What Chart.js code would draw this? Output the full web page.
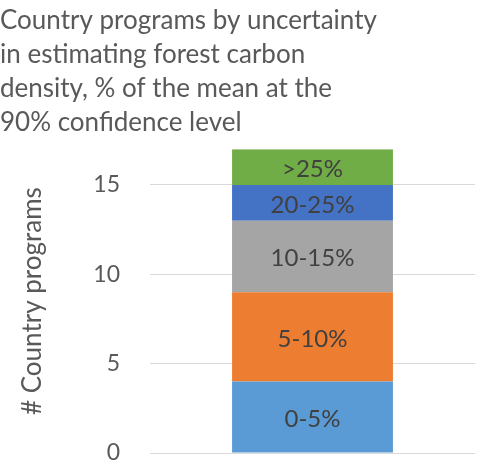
<!DOCTYPE html>
<html lang="en">
<head>
    <meta charset="UTF-8">
    <title>Country programs by uncertainty</title>
    <script src="https://cdn.jsdelivr.net/npm/chart.js"></script>
    <style>
        body {
            margin: 0;
            background-color: white;
        }
        .chart-container {
            position: relative;
            width: 480px;
            height: 464px;
        }
    </style>
</head>
<body>
    <div class="chart-container">
        <canvas id="uncertaintyChart"></canvas>
    </div>

    <script>
        // Data
        const categories = ['Programs'];
        const bandLabels = ['0-5%', '5-10%', '10-15%', '20-25%', '>25%'];
        const bandCounts = [4, 5, 4, 2, 2];
        const bandColors = ['#5b9bd5', '#ed7d31', '#a5a5a5', '#4472c4', '#70ad47'];
        const yTicks = [0, 5, 10, 15];
        const titleLines = [
            'Country programs by uncertainty',
            'in estimating forest carbon',
            'density, % of the mean at the',
            '90% confidence level'
        ];

        const fontFamily = "Lato, 'Open Sans', sans-serif";

        // Draws the band name in the middle of each stacked segment
        const segmentLabels = {
            id: 'segmentLabels',
            afterDatasetsDraw(chart) {
                const ctx = chart.ctx;
                ctx.save();
                ctx.font = '24px ' + fontFamily;
                ctx.fillStyle = '#404040';
                ctx.textAlign = 'center';
                ctx.textBaseline = 'middle';
                chart.data.datasets.forEach((ds, i) => {
                    const bar = chart.getDatasetMeta(i).data[0];
                    if (!bar) return;
                    ctx.fillText(ds.label, bar.x, (bar.y + bar.base) / 2 + 2);
                });
                ctx.restore();
            }
        };

        const ctx = document.getElementById('uncertaintyChart').getContext('2d');
        new Chart(ctx, {
            type: 'bar',
            data: {
                labels: categories,
                datasets: bandLabels.map((label, i) => ({
                    label: label,
                    data: [bandCounts[i]],
                    backgroundColor: bandColors[i],
                    borderWidth: 0
                }))
            },
            options: {
                responsive: true,
                maintainAspectRatio: false,
                animation: false,
                layout: {
                    padding: { left: 0, right: 5, top: 4, bottom: 11 }
                },
                categoryPercentage: 1,
                barPercentage: 0.495,
                scales: {
                    x: {
                        stacked: true,
                        display: false
                    },
                    y: {
                        stacked: true,
                        min: 0,
                        max: 17,
                        border: { display: false },
                        grid: {
                            color: '#d9d9d9',
                            lineWidth: 1,
                            drawTicks: true,
                            tickLength: 30,
                            tickColor: 'rgba(0,0,0,0)'
                        },
                        afterBuildTicks: (scale) => {
                            scale.ticks = yTicks.map(v => ({ value: v }));
                        },
                        afterFit: (scale) => {
                            scale.width = 150;
                        },
                        ticks: {
                            padding: 0,
                            color: '#595959',
                            font: { family: fontFamily, size: 23, lineHeight: 0.95 }
                        },
                        title: {
                            display: true,
                            text: '# Country programs',
                            color: '#595959',
                            font: { family: fontFamily, size: 26 },
                            padding: { top: 17, bottom: 0 }
                        }
                    }
                },
                plugins: {
                    legend: { display: false },
                    tooltip: { enabled: false },
                    title: {
                        display: true,
                        text: titleLines,
                        align: 'start',
                        color: '#595959',
                        font: { family: fontFamily, size: 26, weight: 'normal', lineHeight: 1.3 },
                        padding: { top: 0, bottom: 10 }
                    }
                }
            },
            plugins: [segmentLabels]
        });
    </script>
</body>
</html>
